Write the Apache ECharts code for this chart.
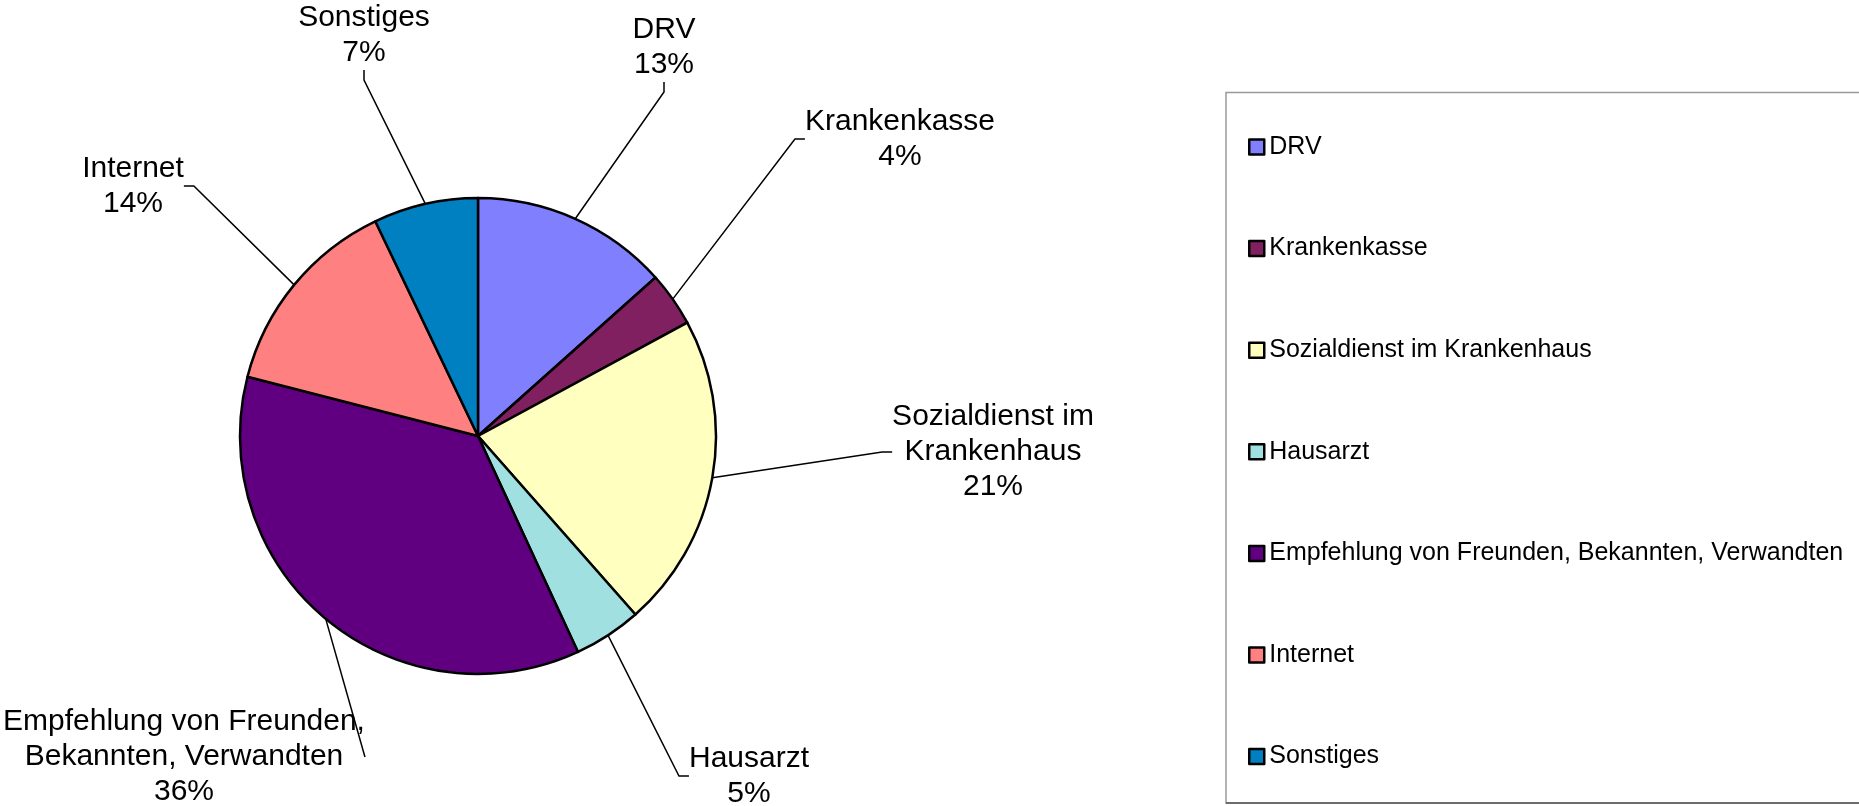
<!DOCTYPE html>
<html>
<head>
<meta charset="utf-8">
<script src="https://cdn.jsdelivr.net/npm/echarts@6/dist/echarts.min.js"></script>
<style>
  html, body { margin: 0; padding: 0; background: #fff; }
  #chart { width: 1859px; height: 806px; }
</style>
</head>
<body>
<div id="chart"></div>
<script>
// Kategorien und Anteile (in %)
var categories = ['DRV', 'Krankenkasse', 'Sozialdienst im Krankenhaus', 'Hausarzt',
    'Empfehlung von Freunden, Bekannten, Verwandten', 'Internet', 'Sonstiges'];
var values = [13.4, 3.7, 21.4, 4.6, 35.9, 13.9, 7.1];
var colors = ['#8080FF', '#802060', '#FFFFC0', '#A0E0E0', '#600080', '#FF8080', '#0080C0'];
// Beschriftungen am Kreis, mit Zeilenumbruch
var labelNames = ['DRV', 'Krankenkasse', 'Sozialdienst im\nKrankenhaus', 'Hausarzt',
    'Empfehlung von Freunden,\nBekannten, Verwandten', 'Internet', 'Sonstiges'];

// Position der Beschriftungen (Mittelpunkt des Textblocks)
var labelPos = [[664, 47], [900, 139], [993, 452], [749, 776], [184, 757], [133, 186], [364, 35]];

var font = "'Liberation Sans', Arial, sans-serif";
var chart = echarts.init(document.getElementById('chart'));

var data = categories.map(function(name, i) {
    return {name: name, value: values[i], itemStyle: {color: colors[i]}};
});

chart.setOption({
    animation: false,
    graphic: [
        {
            type: 'rect',
            shape: {x: 1226, y: 92.5, width: 700, height: 710.5},
            style: {fill: 'none', stroke: '#9a9a9a', lineWidth: 1.5}
        },
        {
            type: 'line',
            shape: {x1: 1226, y1: 803, x2: 1859, y2: 803},
            style: {stroke: '#555', lineWidth: 1.5}
        }
    ],
    legend: {
        orient: 'vertical',
        left: 1243,
        top: 129,
        itemWidth: 15,
        itemHeight: 15,
        itemGap: 75.6,
        icon: 'rect',
        itemStyle: {borderColor: '#000', borderWidth: 2.5},
        textStyle: {fontFamily: font, fontSize: 25, lineHeight: 26, color: '#000'},
        data: categories
    },
    series: [{
        type: 'pie',
        center: [478, 436],
        radius: 238,
        startAngle: 90,
        clockwise: true,
        data: data,
        itemStyle: {borderColor: '#000', borderWidth: 2.5},
        emphasis: {disabled: true},
        label: {
            show: true,
            position: 'outside',
            fontFamily: font,
            fontSize: 30,
            lineHeight: 35,
            color: '#000',
            align: 'center',
            overflow: 'none',
            formatter: function(p) {
                return labelNames[p.dataIndex] + '\n' + Math.round(p.percent) + '%';
            }
        },
        labelLine: {
            show: true,
            length: 20,
            length2: 10,
            lineStyle: {color: '#000', width: 1.5}
        },
        labelLayout: function(p) {
            var pos = labelPos[p.dataIndex];
            return {x: pos[0], y: pos[1], align: 'center', verticalAlign: 'middle'};
        }
    }]
});
</script>
</body>
</html>
